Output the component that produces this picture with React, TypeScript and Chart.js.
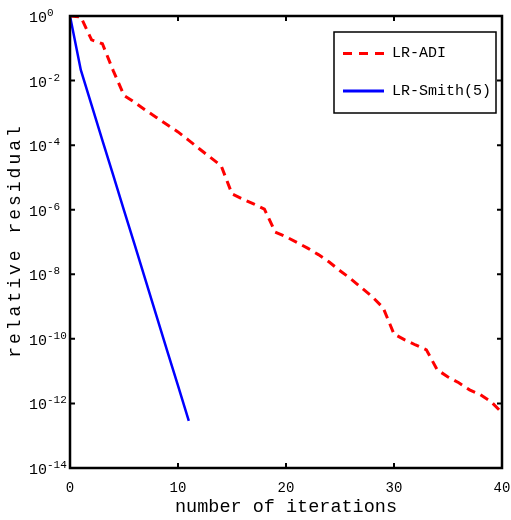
import React, { useEffect, useRef } from 'react';
import { Chart, registerables } from 'chart.js';

Chart.register(...registerables);

// ---- data ----
const iterations = [0, 1, 2, 3, 4, 5, 6, 7, 8, 9, 10, 11, 12, 13, 14, 15, 16, 17, 18, 19, 20,
  21, 22, 23, 24, 25, 26, 27, 28, 29, 30, 31, 32, 33, 34, 35, 36, 37, 38, 39, 40];
const lrAdi = [1, 0.933, 0.182, 0.138, 2.04e-2, 3.47e-3, 2.09e-3, 1.2e-3, 7.24e-4, 4.27e-4,
  2.57e-4, 1.41e-4, 7.59e-5, 4.17e-5, 2.29e-5, 3.09e-6, 2.14e-6, 1.51e-6, 1.05e-6, 2.04e-7,
  1.45e-7, 9.77e-8, 6.46e-8, 4.07e-8, 2.4e-8, 1.29e-8, 7.24e-9, 3.8e-9, 2.0e-9, 9.12e-10,
  1.41e-10, 9.33e-11, 6.46e-11, 4.57e-11, 1.1e-11, 6.61e-12, 4.37e-12, 2.63e-12, 1.86e-12,
  1.12e-12, 5.13e-13];
const smithIterations = [0, 1, 2, 3, 4, 5, 6, 7, 8, 9, 10, 11];
const lrSmith = [1, 2.14e-2, 1.74e-3, 1.41e-4, 1.17e-5, 9.55e-7, 7.94e-8, 6.46e-9, 5.25e-10,
  4.27e-11, 3.55e-12, 2.88e-13];
const seriesLabels = ['LR-ADI', 'LR-Smith(5)'];
const xTicks = [0, 10, 20, 30, 40];
const yTickExponents = [0, -2, -4, -6, -8, -10, -12, -14];
const xTitle = 'number of iterations';
const yTitle = 'relative residual';

const FONT = '"Liberation Mono", "DejaVu Sans Mono", monospace';

const framePlugin = {
  id: 'matlabFrame',
  afterDraw(chart: any) {
    const { ctx, chartArea: a, scales } = chart;
    const xs = scales.x;
    const ys = scales.y;
    ctx.save();
    ctx.strokeStyle = '#000';
    ctx.fillStyle = '#000';
    // tick marks (inward, all four sides)
    ctx.lineWidth = 2;
    const tl = 5;
    ctx.beginPath();
    xs.ticks.forEach((t: any) => {
      const px = xs.getPixelForValue(t.value);
      ctx.moveTo(px, a.bottom);
      ctx.lineTo(px, a.bottom - tl);
      ctx.moveTo(px, a.top);
      ctx.lineTo(px, a.top + tl);
    });
    ys.ticks.forEach((t: any) => {
      const py = ys.getPixelForValue(t.value);
      ctx.moveTo(a.left, py);
      ctx.lineTo(a.left + tl, py);
      ctx.moveTo(a.right, py);
      ctx.lineTo(a.right - tl, py);
    });
    ctx.stroke();
    // frame
    ctx.lineWidth = 2.5;
    ctx.strokeRect(a.left, a.top, a.right - a.left, a.bottom - a.top);

    // y tick labels: 10^e
    ctx.textAlign = 'left';
    ctx.textBaseline = 'alphabetic';
    ys.ticks.forEach((t: any) => {
      const py = ys.getPixelForValue(t.value);
      const e = Math.round(Math.log10(t.value));
      ctx.font = '15px ' + FONT;
      const bx = a.left - 41;
      ctx.fillText('10', bx, py + 6);
      const w = ctx.measureText('10').width;
      ctx.font = '11px ' + FONT;
      ctx.fillText(String(e), bx + w, py);
    });

    // x title
    ctx.font = '18.5px ' + FONT;
    ctx.textAlign = 'center';
    ctx.fillText(xTitle, (a.left + a.right) / 2, 512);

    // y title
    ctx.save();
    ctx.translate(19.5, (a.top + a.bottom) / 2);
    ctx.rotate(-Math.PI / 2);
    ctx.font = '18px ' + FONT;
    (ctx as any).letterSpacing = '3px';
    ctx.textAlign = 'center';
    ctx.fillText(yTitle, 1.5, 0);
    ctx.restore();

    // legend
    const bx0 = a.right - 168;
    const by0 = a.top + 16;
    const bw = 162;
    const bh = 81;
    ctx.fillStyle = '#fff';
    ctx.fillRect(bx0, by0, bw, bh);
    ctx.lineWidth = 1.5;
    ctx.strokeStyle = '#000';
    ctx.strokeRect(bx0, by0, bw, bh);
    const rows = [by0 + 21.5, by0 + 59];
    chart.data.datasets.forEach((ds: any, i: number) => {
      const y = rows[i];
      ctx.beginPath();
      ctx.strokeStyle = ds.borderColor;
      ctx.lineWidth = 3;
      ctx.setLineDash(ds.borderDash && ds.borderDash.length ? [9, 7] : []);
      ctx.moveTo(bx0 + 9, y);
      ctx.lineTo(bx0 + 50, y);
      ctx.stroke();
      ctx.setLineDash([]);
      ctx.fillStyle = '#000';
      ctx.font = '15px ' + FONT;
      ctx.textAlign = 'left';
      ctx.textBaseline = 'middle';
      ctx.fillText(ds.label, bx0 + 58, y);
    });
    ctx.restore();
  },
};

export default function App() {
  const ref = useRef<HTMLCanvasElement | null>(null);
  useEffect(() => {
    if (!ref.current) return;
    const chart = new Chart(ref.current, {
      type: 'line',
      data: {
        datasets: [
          {
            label: seriesLabels[0],
            data: iterations.map((x, i) => ({ x, y: lrAdi[i] })),
            borderColor: '#ff0000',
            borderWidth: 3,
            borderDash: [9, 6],
            pointRadius: 0,
            tension: 0,
            fill: false,
          },
          {
            label: seriesLabels[1],
            data: smithIterations.map((x, i) => ({ x, y: lrSmith[i] })),
            borderColor: '#0000ff',
            borderWidth: 2.5,
            pointRadius: 0,
            tension: 0,
            fill: false,
          },
        ],
      },
      options: {
        animation: false,
        responsive: false,
        devicePixelRatio: 1,
        layout: { padding: { left: 0, right: 9, top: 16, bottom: 0 } },
        plugins: {
          legend: { display: false },
          tooltip: { enabled: false },
        },
        scales: {
          x: {
            type: 'linear',
            min: 0,
            max: 40,
            grid: { display: false },
            border: { display: false },
            afterBuildTicks: (s: any) => {
              s.ticks = xTicks.map((v) => ({ value: v }));
            },
            afterFit: (s: any) => {
              s.height = 52;
              s.paddingLeft = 0;
              s.paddingRight = 0;
            },
            ticks: {
              color: '#000',
              padding: 4,
              maxRotation: 0,
              font: { family: FONT, size: 14 },
            },
          },
          y: {
            type: 'logarithmic',
            min: 1e-14,
            max: 1,
            grid: { display: false },
            border: { display: false },
            afterBuildTicks: (s: any) => {
              s.ticks = yTickExponents.map((e) => ({ value: Math.pow(10, e) }));
            },
            afterFit: (s: any) => {
              s.width = 70;
              s.paddingTop = 0;
              s.paddingBottom = 0;
            },
            ticks: { display: false },
          },
        },
      },
      plugins: [framePlugin],
    } as any);
    return () => chart.destroy();
  }, []);
  return (
    <div style={{ position: 'fixed', left: 0, top: 0, width: 511, height: 520, background: '#fff' }}>
      <canvas ref={ref} width={511} height={520} style={{ display: 'block' }} />
    </div>
  );
}
